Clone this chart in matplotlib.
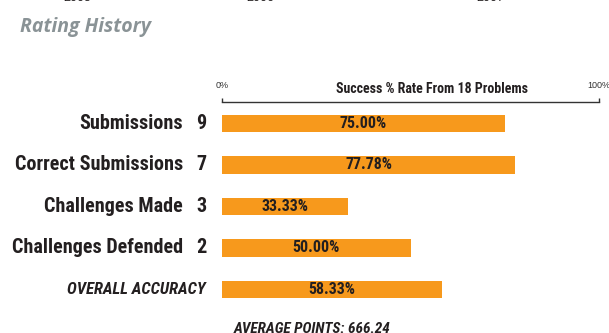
import matplotlib
matplotlib.use("Agg")
import matplotlib.pyplot as plt
from matplotlib.transforms import blended_transform_factory

# success rates from 18 problems
categories = ["Submissions", "Correct Submissions", "Challenges Made",
              "Challenges Defended", "OVERALL ACCURACY"]
counts = ["9", "7", "3", "2", ""]
rates = [75.00, 77.78, 33.33, 50.00, 58.33]
average_points = 666.24
years = ["2005", "2006", "2007"]

NARROW = ["Roboto Condensed", "DejaVu Sans"]
ORANGE = "#F7991C"
DARK = "#231F20"

fig = plt.figure(figsize=(6.09, 3.33), dpi=100)
W, H = 609, 333

left, right = 222 / W, 599 / W
top, bottom = 1 - 102 / H, 1 - 310 / H
ax = fig.add_axes([left, bottom, right - left, top - bottom])

pos = list(range(len(categories)))
ax.barh(pos, rates, height=0.41, color=ORANGE, left=0)
ax.set_xlim(0, 100)
ax.set_ylim(4.494, -0.518)

for i, (name, n, r) in enumerate(zip(categories, counts, rates)):
    ax.text(r / 2, i, f"{r:.2f}%", ha="center", va="center",
            fontsize=11.5, fontweight="bold", color=DARK, family=NARROW)
    if n:
        ax.text(-10.3, i, name, ha="right", va="center", fontsize=14.5,
                fontweight="bold", color=DARK, family=NARROW, clip_on=False)
        ax.text(-4.2, i, n, ha="right", va="center", fontsize=14.5,
                fontweight="bold", color=DARK, family=NARROW, clip_on=False)
    else:
        ax.text(-4.4, i, name, ha="right", va="center", fontsize=12,
                fontweight="bold", style="italic", color=DARK,
                family=NARROW, clip_on=False)

# bracket on top of the bars
for s in ["left", "right", "bottom"]:
    ax.spines[s].set_visible(False)
ax.spines["top"].set_color("#333333")
ax.spines["top"].set_linewidth(1)
ax.set_yticks([])
ax.xaxis.tick_top()
ax.set_xticks([0, 100])
ax.set_xticklabels(["0%", "100%"])
ax.tick_params(axis="x", direction="out", length=3, width=1, color="#333333",
               pad=6, labelsize=6.5, labelcolor="#333333")
for lbl in ax.get_xticklabels():
    lbl.set_family("Liberation Sans")

trans = blended_transform_factory(ax.transData, ax.transAxes)
ax.text(55.7, 1.0625, "Success % Rate From 18 Problems", transform=trans,
        ha="center", va="center", fontsize=10, fontweight="bold",
        color=DARK, family=NARROW)

fig.text(20 / W, 1 - 32 / H, "Rating History", ha="left", va="baseline",
         fontsize=14, fontweight="bold", style="italic", color="#8A9396",
         family="Open Sans")

for yr, x in zip(years, [77, 260, 490]):
    fig.text(x / W, 1 - 4 / H, yr, ha="center", va="bottom", fontsize=9,
             color=DARK, family="Liberation Sans")

fig.text(312 / W, 1 - 322 / H, f"AVERAGE POINTS: {average_points:.2f}",
         ha="center", va="top", fontsize=11, fontweight="bold",
         style="italic", color=DARK, family=NARROW)

fig.savefig("out.png", dpi=100)
